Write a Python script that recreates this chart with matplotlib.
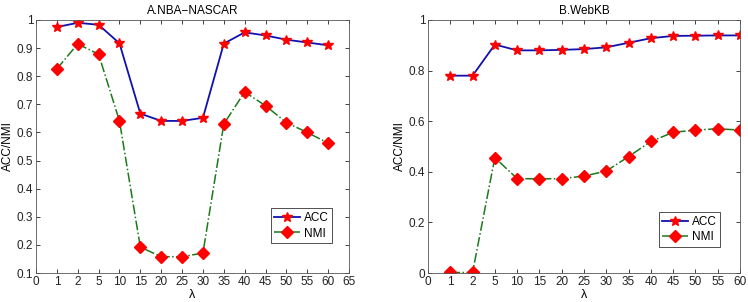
import matplotlib
matplotlib.use("Agg")
import matplotlib.pyplot as plt

plt.rcParams['font.family'] = ['Liberation Sans', 'DejaVu Sans']

lambdas = [1, 2, 5, 10, 15, 20, 25, 30, 35, 40, 45, 50, 55, 60]
tick_labels_a = [0, 1, 2, 5, 10, 15, 20, 25, 30, 35, 40, 45, 50, 55, 60, 65]
tick_labels_b = [0, 1, 2, 5, 10, 15, 20, 25, 30, 35, 40, 45, 50, 55, 60]

acc_a = [0.975, 0.990, 0.983, 0.917, 0.667, 0.641, 0.641, 0.652, 0.916, 0.956, 0.945, 0.930, 0.920, 0.910]
nmi_a = [0.826, 0.915, 0.878, 0.641, 0.192, 0.158, 0.158, 0.171, 0.630, 0.744, 0.695, 0.635, 0.600, 0.562]

acc_b = [0.780, 0.780, 0.903, 0.880, 0.880, 0.882, 0.885, 0.892, 0.910, 0.928, 0.937, 0.938, 0.939, 0.939]
nmi_b = [0.002, 0.002, 0.456, 0.373, 0.372, 0.373, 0.383, 0.403, 0.460, 0.520, 0.556, 0.565, 0.570, 0.565]

fig = plt.figure(figsize=(7.48, 3.02), dpi=100)
W, H = 748, 302
axA = fig.add_axes([36 / W, 1 - 273 / H, (349 - 36) / W, (273 - 20) / H])
axB = fig.add_axes([428 / W, 1 - 273 / H, (740 - 428) / W, (273 - 20) / H])

def draw(ax, acc, nmi, ticks, title, ylim, yticks, anchor):
    pos = list(range(1, len(lambdas) + 1))
    ax.plot(pos, acc, color='#1010b0', lw=1.3, marker='*', ms=7,
            mfc='red', mec='red', label='ACC')
    ax.plot(pos, nmi, color='#1a7a1a', lw=1.1, ls='-.', marker='D', ms=6,
            mfc='red', mec='red', label='NMI')
    ax.set_xlim(0, len(ticks) - 1)
    ax.set_xticks(range(len(ticks)))
    ax.set_xticklabels([str(t) for t in ticks])
    ax.set_ylim(*ylim)
    ax.set_yticks(yticks)
    ax.set_yticklabels([('%g' % y) for y in yticks])
    ax.tick_params(direction='in', top=True, right=True, labelsize=8.5,
                   length=3, width=0.6, pad=2, colors='#222222')
    for s in ax.spines.values():
        s.set_linewidth(0.6)
        s.set_color('#555555')
    ax.set_title(title, fontsize=8.5, pad=4)
    ax.set_xlabel('λ', fontsize=9, labelpad=1)
    ax.set_ylabel('ACC/NMI', fontsize=8.5, labelpad=2)
    leg = ax.legend(loc='lower right', fontsize=8.5, fancybox=False,
                    framealpha=1, edgecolor='#333333', handlelength=2.2,
                    borderpad=0.3, labelspacing=0.3, handletextpad=0.3,
                    bbox_to_anchor=anchor)
    leg.get_frame().set_linewidth(0.6)

draw(axA, acc_a, nmi_a, tick_labels_a, 'A.NBA\u2212NASCAR', (0.1, 1.0),
     [0.1, 0.2, 0.3, 0.4, 0.5, 0.6, 0.7, 0.8, 0.9, 1], (0.965, 0.095))
draw(axB, acc_b, nmi_b, tick_labels_b, 'B.WebKB', (0, 1.0),
     [0, 0.2, 0.4, 0.6, 0.8, 1], (0.955, 0.08))

fig.savefig('out.png', dpi=100)
